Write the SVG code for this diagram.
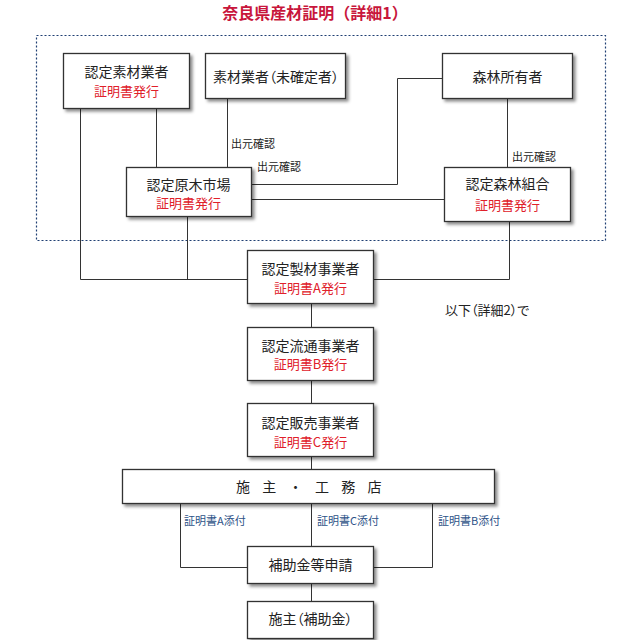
<svg xmlns="http://www.w3.org/2000/svg" width="630" height="640" viewBox="0 0 630 640">
<style>
text{font-family:"Noto Sans CJK JP","Noto Sans",sans-serif;}
.box{fill:#fff;stroke:#333;stroke-width:1.3;filter:url(#sh);}
.t{font-size:14px;fill:#222;text-anchor:middle;}
.r{font-size:13px;fill:#e0202a;text-anchor:middle;}
.lbl{font-size:11px;fill:#222;}
.b{font-size:11px;fill:#2d5287;}
.p{font-feature-settings:"palt";}
.ln{fill:none;stroke:#333;stroke-width:1;}
</style>
<defs>
<filter id="sh" x="-10%" y="-10%" width="130%" height="140%">
<feDropShadow dx="2.5" dy="2.5" stdDeviation="1.5" flood-color="#000" flood-opacity="0.45"/>
</filter>
</defs>
<rect width="630" height="640" fill="#fff"/>
<text x="315" y="19" text-anchor="middle" style="font-size:16px;font-weight:bold;fill:#c8163c;">奈良県産材証明（詳細1）</text>
<rect x="36.5" y="35.5" width="569" height="205" fill="none" stroke="#1f3f73" stroke-width="1.2" stroke-dasharray="2,2"/>
<g id="connectors">
<polyline class="ln" points="80.5,108 80.5,279.5 247,279.5"/>
<line class="ln" x1="156.5" y1="108" x2="156.5" y2="167"/>
<line class="ln" x1="227.5" y1="98" x2="227.5" y2="167"/>
<line class="ln" x1="187.5" y1="216" x2="187.5" y2="279.5"/>
<polyline class="ln" points="251,184.5 397.5,184.5 397.5,78.5 442,78.5"/>
<line class="ln" x1="251" y1="199.5" x2="444" y2="199.5"/>
<line class="ln" x1="507.5" y1="98" x2="507.5" y2="167"/>
<polyline class="ln" points="509.5,221 509.5,279.5 373,279.5"/>
<line class="ln" x1="311.5" y1="303" x2="311.5" y2="327"/>
<line class="ln" x1="311.5" y1="380" x2="311.5" y2="403"/>
<line class="ln" x1="311.5" y1="456" x2="311.5" y2="469"/>
<polyline class="ln" points="180.5,503 180.5,567.5 247,567.5"/>
<line class="ln" x1="311.5" y1="503" x2="311.5" y2="546"/>
<polyline class="ln" points="432.5,503 432.5,567.5 373,567.5"/>
<line class="ln" x1="311.5" y1="583" x2="311.5" y2="601"/>
<text class="lbl" x="231" y="148">出元確認</text>
<text class="lbl" x="257" y="171">出元確認</text>
<text class="lbl" x="512" y="161">出元確認</text>
<text class="b" x="184" y="525">証明書A添付</text>
<text class="b" x="317" y="525">証明書C添付</text>
<text class="b" x="438" y="525">証明書B添付</text>
</g>
<g id="n1"><rect class="box" x="63.5" y="53.5" width="126" height="55"/><text class="t" x="126.5" y="77">認定素材業者</text><text class="r" x="126.5" y="96">証明書発行</text></g>
<g id="n2"><rect class="box" x="205.5" y="53.5" width="140" height="45"/><text class="t p" x="276" y="82">素材業者（未確定者）</text></g>
<g id="n3"><rect class="box" x="126.5" y="167.5" width="125" height="49"/><text class="t" x="188.5" y="190">認定原木市場</text><text class="r" x="188.5" y="208">証明書発行</text></g>
<g id="n4"><rect class="box" x="442.5" y="53.5" width="130" height="45"/><text class="t" x="507.5" y="82">森林所有者</text></g>
<g id="n5"><rect class="box" x="444.5" y="167.5" width="126" height="54"/><text class="t" x="507.5" y="189">認定森林組合</text><text class="r" x="507.5" y="210">証明書発行</text></g>
<g id="n6"><rect class="box" x="247.5" y="250.5" width="126" height="53"/><text class="t" x="310.5" y="274">認定製材事業者</text><text class="r" x="310.5" y="293">証明書A発行</text></g>
<g id="n7"><rect class="box" x="247.5" y="327.5" width="126" height="53"/><text class="t" x="310.5" y="351">認定流通事業者</text><text class="r" x="310.5" y="369">証明書B発行</text></g>
<g id="n8"><rect class="box" x="247.5" y="403.5" width="126" height="53"/><text class="t" x="310.5" y="428">認定販売事業者</text><text class="r" x="310.5" y="447">証明書C発行</text></g>
<g id="n9"><rect class="box" x="122.5" y="469.5" width="372" height="34"/><text x="236" y="492" style="font-size:14px;fill:#222;letter-spacing:12.3px;">施主・工務店</text></g>
<g id="n10"><rect class="box" x="247.5" y="546.5" width="126" height="37"/><text class="t" x="310.5" y="570">補助金等申請</text></g>
<g id="n11"><rect class="box" x="247.5" y="601.5" width="126" height="37"/><text class="t p" x="310.5" y="624">施主（補助金）</text></g>
<text class="p" x="445" y="315" style="font-size:13px;fill:#222;">以下（詳細2）で</text>
</svg>
